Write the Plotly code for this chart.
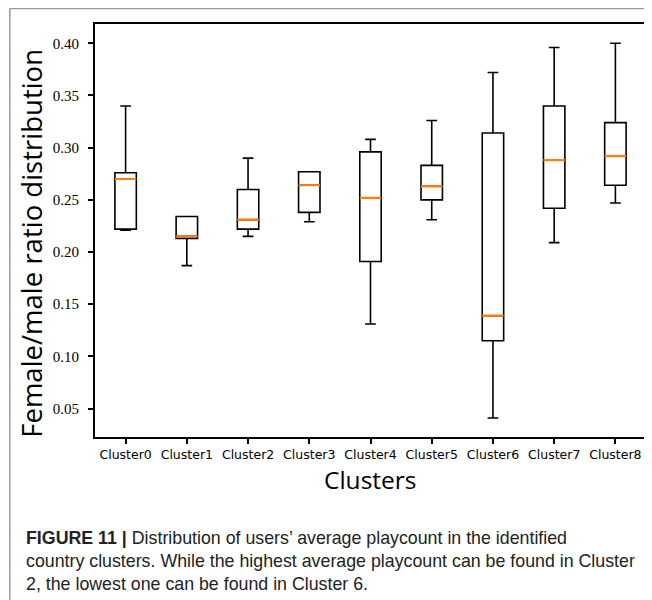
import plotly.graph_objects as go

clusters = ["Cluster0", "Cluster1", "Cluster2", "Cluster3", "Cluster4",
            "Cluster5", "Cluster6", "Cluster7", "Cluster8"]
lower_whisker = [0.221, 0.187, 0.215, 0.229, 0.131, 0.231, 0.041, 0.209, 0.247]
q1 = [0.222, 0.213, 0.222, 0.238, 0.191, 0.250, 0.115, 0.242, 0.264]
median = [0.270, 0.215, 0.231, 0.264, 0.252, 0.263, 0.139, 0.288, 0.292]
q3 = [0.276, 0.234, 0.260, 0.277, 0.296, 0.283, 0.314, 0.340, 0.324]
upper_whisker = [0.340, 0.234, 0.290, 0.277, 0.308, 0.326, 0.372, 0.396, 0.400]
y_ticks = [0.05, 0.10, 0.15, 0.20, 0.25, 0.30, 0.35, 0.40]

# page body has an 8px margin; reference pixel coords are converted accordingly
OFF = 8
W, H = 652 - OFF, 600 - OFF
L, R, T, B = 95 - OFF, 4, 24 - OFF, 163
pw, ph = W - L - R, H - T - B

def px(x):
    return (x - OFF - L) / pw

def py(y):
    return (H - B - (y - OFF)) / ph

fig = go.Figure()
fig.add_trace(go.Box(
    x=clusters, q1=q1, median=median, q3=q3,
    lowerfence=lower_whisker, upperfence=upper_whisker,
    line=dict(color="black", width=1.6), fillcolor="rgba(0,0,0,0)",
    whiskerwidth=0.5, hoverinfo="skip", showlegend=False, boxpoints=False,
))
fig.add_trace(go.Box(
    x=clusters, q1=median, median=median, q3=median,
    lowerfence=median, upperfence=median,
    line=dict(color="#ff7f0e", width=2.2), fillcolor="rgba(0,0,0,0)",
    whiskerwidth=0, hoverinfo="skip", showlegend=False, boxpoints=False,
))

fig.update_layout(
    width=W, height=H,
    margin=dict(l=L, r=R, t=T, b=B),
    paper_bgcolor="white", plot_bgcolor="white",
    boxmode="overlay", boxgap=0.5,
    showlegend=False,
    xaxis=dict(
        range=[-0.5, 8.5], showgrid=False, zeroline=False,
        showline=True, linecolor="black", linewidth=2, mirror=True,
        ticks="outside", ticklen=5, tickwidth=1.5, tickcolor="black",
        tickfont=dict(family="DejaVu Sans", size=12.5, color="black"),
    ),
    yaxis=dict(
        range=[0.0228, 0.4185], showgrid=False, zeroline=False,
        showline=True, linecolor="black", linewidth=2, mirror=True,
        ticks="outside", ticklen=5, tickwidth=1.5, tickcolor="black",
        tickvals=y_ticks, ticktext=[f"{v:.2f}" for v in y_ticks],
        ticklabelstandoff=6,
        tickfont=dict(family="Liberation Serif", size=15, color="black"),
    ),
    shapes=[
        dict(type="line", xref="paper", yref="paper",
             x0=px(9.5), x1=px(660), y0=py(8.5), y1=py(8.5),
             line=dict(color="#999999", width=1.5)),
        dict(type="line", xref="paper", yref="paper",
             x0=px(9.5), x1=px(9.5), y0=py(8.5), y1=py(610),
             line=dict(color="#999999", width=1.5)),
    ],
    annotations=[
        dict(text="Female/male ratio distribution", xref="paper", yref="paper",
             x=px(31), y=py(243.5), textangle=-90, showarrow=False,
             xanchor="center", yanchor="middle",
             font=dict(family="Open Sans", size=27.5, color="black")),
        dict(text="Clusters", xref="paper", yref="paper",
             x=px(371.5), y=py(479), showarrow=False,
             xanchor="center", yanchor="middle",
             font=dict(family="Open Sans", size=24.5, color="black")),
        dict(text="<b>FIGURE 11 |</b> Distribution of users’ average playcount in the identified<br>"
                  "country clusters. While the highest average playcount can be found in Cluster<br>"
                  "2, the lowest one can be found in Cluster 6.",
             xref="paper", yref="paper", x=px(24), y=py(526),
             showarrow=False, xanchor="left", yanchor="top", align="left",
             font=dict(family="Liberation Sans", size=17.8, color="#222222")),
    ],
)

fig.write_html("out.html")
